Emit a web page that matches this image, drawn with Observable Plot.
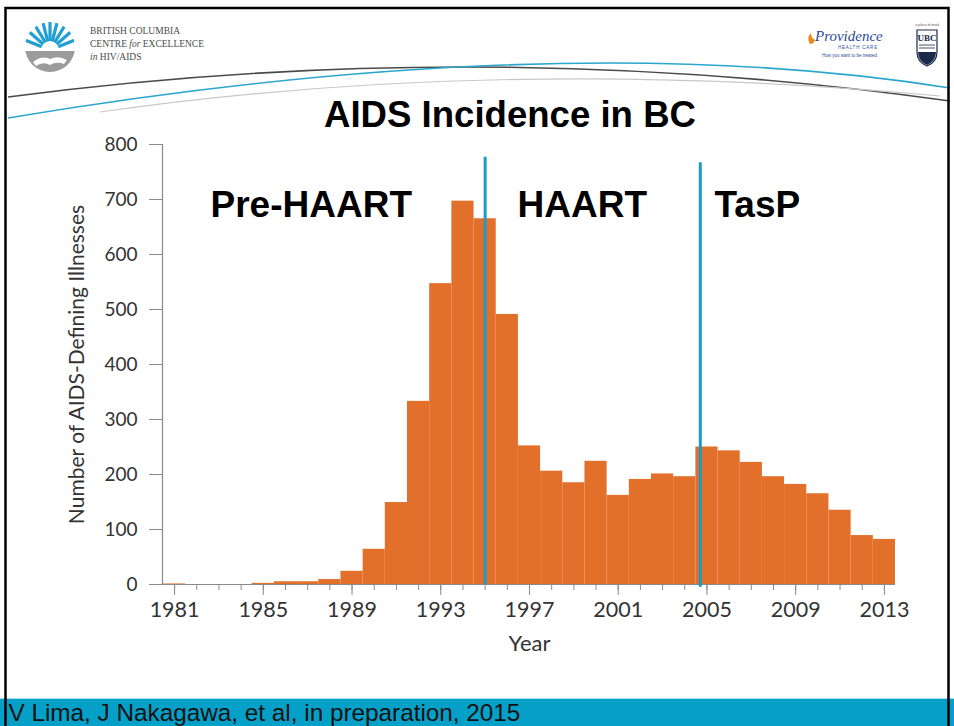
<!DOCTYPE html>
<html>
<head>
<meta charset="utf-8">
<script src="https://cdn.jsdelivr.net/npm/d3@7"></script>
<script src="https://cdn.jsdelivr.net/npm/@observablehq/plot@0.6"></script>
<style>
  html, body { margin: 0; padding: 0; background: #fff; }
  #slide { position: relative; width: 954px; height: 726px; overflow: hidden; background: #fff; }
  #deco { position: absolute; left: 0; top: 0; }
  #chart { position: absolute; left: 0; top: 140px; }
</style>
</head>
<body>
<div id="slide">
  <svg id="deco" width="954" height="726" viewBox="0 0 954 726">
    <!-- swooshes -->
    <path d="M8,97 Q480,35 950,101" fill="none" stroke="#4a4a4a" stroke-width="1.6"/>
    <path d="M8,118 Q560,26 950,88" fill="none" stroke="#2aa6cf" stroke-width="1.6"/>
    <path d="M100,112 Q500,55 940,96" fill="none" stroke="#c8c8c8" stroke-width="1.2"/>
    <!-- BC-CfE logo -->
    <defs><clipPath id="lc"><circle cx="50" cy="47" r="25"/></clipPath></defs>
    <g clip-path="url(#lc)">
      <rect x="25" y="22" width="50" height="50" fill="#fff"/>
      <g stroke="#1f9fd2" stroke-width="3.2">
        <line x1="50" y1="50" x2="25" y2="40"/><line x1="50" y1="50" x2="27" y2="30"/>
        <line x1="50" y1="50" x2="33" y2="22"/><line x1="50" y1="50" x2="42" y2="19"/>
        <line x1="50" y1="50" x2="50" y2="17"/><line x1="50" y1="50" x2="58" y2="19"/>
        <line x1="50" y1="50" x2="67" y2="22"/><line x1="50" y1="50" x2="73" y2="30"/>
        <line x1="50" y1="50" x2="75" y2="40"/>
      </g>
      <circle cx="50" cy="50" r="9" fill="#fff"/>
      <rect x="25" y="51" width="50" height="22" fill="#9b9b9b"/>
      <path d="M33,62 Q42,55 50,59 Q58,55 67,60 L64,64 Q56,61 50,65 Q43,61 36,66 Z" fill="#fff"/>
    </g>
    <g font-family="'Liberation Serif', 'DejaVu Serif', serif" fill="#4a4a4a" font-size="9.5">
      <text x="90" y="34">BRITISH COLUMBIA</text>
      <text x="90" y="47">CENTRE <tspan font-style="italic">for</tspan> EXCELLENCE</text>
      <text x="90" y="60"><tspan font-style="italic">in</tspan> HIV/AIDS</text>
    </g>
    <!-- Providence logo -->
    <path d="M810,44 Q806,38 811,33 Q811,38 815,40 Q814,44 810,44 Z" fill="#e58a1f"/>
    <text x="815" y="41" font-family="'Liberation Serif', serif" font-style="italic" font-size="15" fill="#2c4a96">Providence</text>
    <text x="838" y="49" font-family="'Liberation Sans', sans-serif" font-size="4.5" fill="#2c4a96" letter-spacing="0.8">HEALTH CARE</text>
    <text x="822" y="57" font-family="'Liberation Sans', sans-serif" font-size="4.5" fill="#2c4a96">How you want to be treated.</text>
    <!-- UBC crest -->
    <text x="927" y="26" text-anchor="middle" font-family="'Liberation Sans', sans-serif" font-size="3.5" fill="#555">a place of mind</text>
    <path d="M917,30 L937,30 L937,52 Q937,62 927,66 Q917,62 917,52 Z" fill="#fff" stroke="#1a2a4a" stroke-width="1.2"/>
    <text x="927" y="41" text-anchor="middle" font-family="'Liberation Serif', serif" font-weight="bold" font-size="9" fill="#1a2a4a">UBC</text>
    <g stroke="#1a2a4a" stroke-width="0.8"><line x1="919" y1="45" x2="935" y2="45"/><line x1="919" y1="48" x2="935" y2="48"/></g>
    <path d="M918,52 L936,52 Q936,61 927,65 Q918,61 918,52 Z" fill="#1a2a4a"/>
    <!-- title -->
    <text id="title" x="510" y="127" text-anchor="middle" font-family="'Liberation Sans', Arial, sans-serif" font-weight="bold" font-size="36.6" fill="#000">AIDS Incidence in BC</text>
    <!-- footer -->
    <rect x="0" y="698" width="954" height="28" fill="#05a0c8"/>
    <line x1="0" y1="698.5" x2="954" y2="698.5" stroke="#a8dcea" stroke-width="1"/>
    <text id="foot" x="8.5" y="721" font-family="'Liberation Sans', Arial, sans-serif" font-size="24.3" fill="#111">V Lima, J Nakagawa, et al, in preparation, 2015</text>
    <!-- frame -->
    <rect x="5.5" y="8" width="943" height="730" fill="none" stroke="#000" stroke-width="2.5"/>
  </svg>
  <div id="chart"></div>
</div>
<script>
// ---- data ----
const years = [1981,1982,1983,1984,1985,1986,1987,1988,1989,1990,1991,1992,1993,1994,1995,1996,1997,1998,1999,2000,2001,2002,2003,2004,2005,2006,2007,2008,2009,2010,2011,2012,2013];
const cases = [1,0,0,0,2,5,5,9,24,64,149,333,547,697,665,491,252,206,185,224,162,191,201,196,250,243,222,196,182,165,135,89,82];
const yTicks = [0,100,200,300,400,500,600,700,800];
const xMajorTicks = [1981,1985,1989,1993,1997,2001,2005,2009,2013];
const breakYears = [1995, 2004.7];
const breakTops = [777, 767];
const breakBottoms = [0, -5];
const eraLabels = ["Pre-HAART", "HAART", "TasP"];
const eraStart = [1982.62, 1996.46, 2005.34];
const eraLevel = [689, 689, 689];
const yLabel = "Number of AIDS-Defining Illnesses";
const xLabel = "Year";

const data = years.map((year, i) => ({year, value: cases[i]}));
const eras = eraLabels.map((label, i) => ({label, x: eraStart[i], y: eraLevel[i]}));
const breaks = breakYears.map((x, i) => ({x, y1: breakBottoms[i], y2: breakTops[i]}));
const x0 = years[0] - 0.5, x1 = years[years.length - 1] + 0.5;

const chart = Plot.plot({
  width: 954,
  height: 530,
  marginTop: 4,
  marginBottom: 86,
  marginLeft: 163,
  marginRight: 59,
  style: {fontFamily: "Lato, 'Open Sans', sans-serif", background: "transparent", overflow: "visible"},
  x: {domain: [x0, x1]},
  y: {domain: [0, 800]},
  marks: [
    Plot.ruleY([0], {x1: x0, x2: x1, stroke: "#8a8a8a", strokeWidth: 1.2}),
    Plot.ruleX([x0], {y1: 0, y2: 800, stroke: "#8a8a8a", strokeWidth: 1.2, dx: -1}),
    Plot.rectY(data, {x1: d => d.year - 0.5, x2: d => d.year + 0.5, y1: 0, y2: "value", fill: "#e2702a", inset: 0}),
    Plot.axisX({ticks: years, tickSize: 6, tickFormat: () => "", color: "#8a8a8a", label: null}),
    Plot.axisX({ticks: xMajorTicks, tickSize: 11, tickFormat: () => "", color: "#8a8a8a", label: null}),
    Plot.axisX({ticks: xMajorTicks, tickSize: 0, tickPadding: 17, tickFormat: d => String(d), color: "#333", fontSize: 21.5, label: null}),
    Plot.axisY({ticks: yTicks, tickSize: 14, tickFormat: () => "", color: "#8a8a8a", label: null}),
    Plot.axisY({ticks: yTicks, tickSize: 0, tickPadding: 26, tickFormat: d => String(d), color: "#333", fontSize: 19, label: null}),
    Plot.ruleX(breaks, {x: "x", y1: "y1", y2: "y2", stroke: "#1a9dc4", strokeWidth: 3}),
    Plot.text(eras, {x: "x", y: "y", text: "label", textAnchor: "start", fontFamily: "'Liberation Sans', Arial, sans-serif", fontWeight: "bold", fontSize: 37, fill: "#000"}),
    Plot.text([yLabel], {frameAnchor: "left", textAnchor: "middle", dx: -86, rotate: -90, fontSize: 21, fill: "#333"}),
    Plot.text([xLabel], {frameAnchor: "bottom", textAnchor: "middle", dy: 66, fontSize: 22, fill: "#333"})
  ]
});
document.getElementById("chart").appendChild(chart);
</script>
</body>
</html>
